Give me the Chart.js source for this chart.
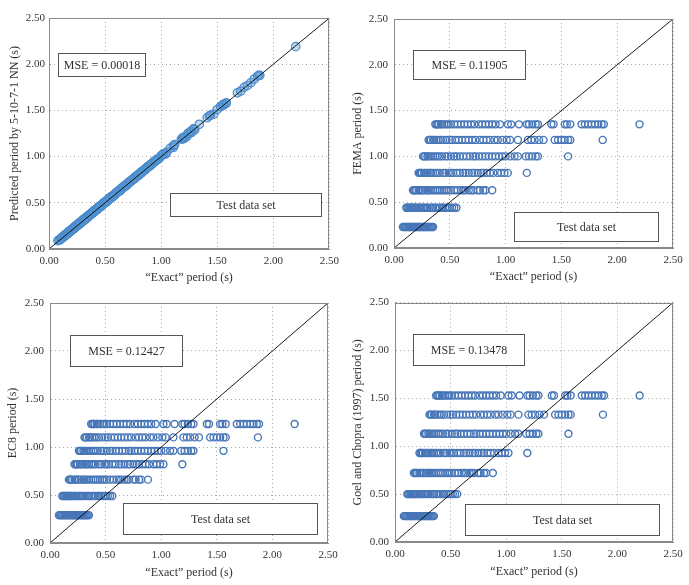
<!DOCTYPE html>
<html>
<head>
<meta charset="utf-8">
<script src="https://cdn.jsdelivr.net/npm/chart.js@4/dist/chart.umd.min.js"></script>
<style>
  html, body { margin: 0; padding: 0; background: #fff; }
  #wrap { position: relative; width: 689px; height: 585px; overflow: hidden; background: #fff; }
  canvas { position: absolute; }
</style>
</head>
<body>
<div id="wrap">
  <canvas id="c1" width="345" height="290" style="left:0px;top:0px"></canvas>
  <canvas id="c2" width="344" height="290" style="left:345px;top:0px"></canvas>
  <canvas id="c3" width="345" height="295" style="left:0px;top:290px"></canvas>
  <canvas id="c4" width="344" height="295" style="left:345px;top:290px"></canvas>
</div>
<script>
// ---------- DATA ----------
// "Exact" periods (s), grouped by the building group (code-period level)
const exactL1 = [0.08,0.09,0.10,0.11,0.12,0.13,0.14,0.15,0.16,0.17,0.18,0.19,0.20,0.21,0.22,0.23,0.24,0.25,0.26,0.27,0.28,0.29,0.30,0.31,0.32,0.33,0.34,0.35];
const exactL2 = [0.11,0.12,0.13,0.14,0.15,0.16,0.17,0.18,0.19,0.20,0.22,0.23,0.24,0.26,0.27,0.29,0.30,0.32,0.34,0.35,0.37,0.39,0.41,0.43,0.44,0.46,0.48,0.50,0.52,0.54,0.56];
const exactL3 = [0.17,0.18,0.19,0.20,0.22,0.23,0.25,0.26,0.28,0.30,0.31,0.33,0.35,0.37,0.39,0.41,0.43,0.45,0.47,0.49,0.51,0.54,0.57,0.60,0.62,0.64,0.67,0.69,0.71,0.75,0.77,0.80,0.82,0.88];
const exactL4 = [0.22,0.23,0.24,0.25,0.27,0.28,0.30,0.32,0.33,0.35,0.37,0.39,0.41,0.44,0.46,0.49,0.51,0.53,0.56,0.59,0.62,0.64,0.67,0.70,0.72,0.75,0.78,0.80,0.83,0.86,0.89,0.93,0.96,0.99,1.02,1.19];
const exactL5 = [0.26,0.27,0.28,0.30,0.31,0.33,0.35,0.37,0.39,0.41,0.43,0.46,0.48,0.51,0.54,0.56,0.59,0.62,0.65,0.68,0.71,0.73,0.76,0.79,0.82,0.85,0.88,0.91,0.94,0.97,1.00,1.04,1.08,1.11,1.18,1.21,1.24,1.27,1.29,1.56];
const exactL6 = [0.31,0.32,0.33,0.35,0.36,0.38,0.40,0.42,0.44,0.47,0.50,0.52,0.55,0.58,0.61,0.64,0.67,0.70,0.73,0.77,0.80,0.83,0.86,0.90,0.93,0.97,1.01,1.04,1.11,1.20,1.23,1.26,1.30,1.34,1.44,1.47,1.50,1.53,1.56,1.58,1.87];
const exactL7 = [0.37,0.38,0.39,0.40,0.42,0.43,0.45,0.47,0.49,0.51,0.54,0.57,0.60,0.63,0.66,0.69,0.72,0.76,0.79,0.82,0.85,0.88,0.91,0.95,1.02,1.05,1.12,1.19,1.21,1.24,1.27,1.29,1.41,1.43,1.53,1.55,1.58,1.68,1.71,1.74,1.77,1.80,1.83,1.86,1.88,2.20];

// Periods predicted by the 5-10-7-1 NN (same points, same order)
const nnPredL1 = [0.09,0.10,0.10,0.12,0.12,0.14,0.15,0.15,0.17,0.17,0.19,0.19,0.21,0.21,0.22,0.24,0.24,0.26,0.26,0.28,0.28,0.30,0.30,0.32,0.32,0.34,0.34,0.36];
const nnPredL2 = [0.12,0.12,0.14,0.14,0.16,0.16,0.18,0.18,0.20,0.20,0.23,0.23,0.25,0.26,0.28,0.29,0.31,0.32,0.35,0.35,0.38,0.39,0.42,0.43,0.45,0.46,0.49,0.50,0.53,0.54,0.57];
const nnPredL3 = [0.17,0.19,0.19,0.21,0.22,0.24,0.25,0.27,0.28,0.31,0.31,0.34,0.35,0.38,0.39,0.42,0.43,0.46,0.47,0.50,0.51,0.55,0.57,0.61,0.62,0.65,0.67,0.70,0.72,0.76,0.78,0.80,0.83,0.89];
const nnPredL4 = [0.23,0.23,0.25,0.25,0.28,0.28,0.31,0.32,0.34,0.35,0.38,0.39,0.42,0.44,0.47,0.49,0.52,0.53,0.57,0.59,0.63,0.64,0.68,0.70,0.73,0.75,0.79,0.80,0.84,0.86,0.90,0.93,0.97,0.99,1.03,1.19];
const nnPredL5 = [0.27,0.27,0.29,0.30,0.32,0.33,0.36,0.37,0.40,0.41,0.44,0.46,0.49,0.51,0.55,0.56,0.60,0.62,0.66,0.68,0.72,0.73,0.77,0.79,0.83,0.85,0.89,0.91,0.95,0.97,1.01,1.03,1.09,1.10,1.19,1.20,1.25,1.26,1.30,1.56];
const nnPredL6 = [0.32,0.32,0.34,0.35,0.37,0.38,0.41,0.42,0.45,0.47,0.51,0.52,0.56,0.58,0.62,0.64,0.68,0.70,0.74,0.77,0.81,0.83,0.87,0.90,0.94,0.97,1.02,1.03,1.12,1.21,1.22,1.27,1.29,1.35,1.45,1.46,1.51,1.54,1.57,1.58,1.88];
const nnPredL7 = [0.38,0.38,0.40,0.40,0.43,0.43,0.46,0.47,0.50,0.51,0.55,0.57,0.61,0.63,0.67,0.69,0.73,0.76,0.80,0.82,0.86,0.88,0.92,0.95,1.03,1.05,1.13,1.20,1.21,1.25,1.27,1.30,1.42,1.44,1.54,1.56,1.58,1.69,1.71,1.75,1.77,1.80,1.84,1.87,1.88,2.19];

// Code-formula periods (s), one value per level
const femaLevels = [0.23, 0.44, 0.63, 0.82, 1.00, 1.18, 1.35];
const ec8Levels  = [0.29, 0.49, 0.66, 0.82, 0.96, 1.10, 1.24];
const goelLevels = [0.27, 0.50, 0.72, 0.93, 1.13, 1.33, 1.53];

const mseValues = ["0.00018", "0.11905", "0.12427", "0.13478"];
const yTitles = ["Predicted period by 5-10-7-1 NN (s)", "FEMA period (s)", "EC8 period (s)", "Goel and Chopra (1997) period (s)"];
const xTitle = "\u201CExact\u201D period (s)";
const axisTicks = [0, 0.5, 1.0, 1.5, 2.0, 2.5];
const diagonal = [0, 2.5];

// ---------- BUILD ----------
const exactGroups = [exactL1, exactL2, exactL3, exactL4, exactL5, exactL6, exactL7];
const nnGroups = [nnPredL1, nnPredL2, nnPredL3, nnPredL4, nnPredL5, nnPredL6, nnPredL7];

function nnPoints() {
  const pts = [];
  exactGroups.forEach((g, i) => g.forEach((x, j) => pts.push({x: x, y: nnGroups[i][j]})));
  return pts;
}
function levelPoints(levels) {
  const pts = [];
  exactGroups.forEach((g, i) => g.forEach(x => pts.push({x: x, y: levels[i]})));
  return pts;
}

const FONT = "'Liberation Serif', 'Times New Roman', serif";
const TXT = '#333333';

const boxPlugin = {
  id: 'boxes',
  afterDatasetsDraw(chart, args, opts) {
    const ctx = chart.ctx;
    const xs = chart.scales.x, ys = chart.scales.y;
    const a = chart.chartArea;
    ctx.save();
    ctx.strokeStyle = '#8a8a8a';
    ctx.lineWidth = 1;
    ctx.strokeRect(Math.round(a.left) + 0.5, Math.round(a.top) + 0.5, Math.round(a.right - a.left) - 1, Math.round(a.bottom - a.top) - 1);
    (opts.items || []).forEach(b => {
      const x0 = Math.round(xs.getPixelForValue(b.x0)) + 0.5;
      const x1 = Math.round(xs.getPixelForValue(b.x1)) + 0.5;
      const y0 = Math.round(ys.getPixelForValue(b.yTop)) + 0.5;
      const y1 = Math.round(ys.getPixelForValue(b.yBot)) + 0.5;
      ctx.fillStyle = '#ffffff';
      ctx.fillRect(x0, y0, x1 - x0, y1 - y0);
      ctx.strokeStyle = '#555555';
      ctx.lineWidth = 1;
      ctx.strokeRect(x0, y0, x1 - x0, y1 - y0);
      ctx.fillStyle = TXT;
      ctx.font = '12px ' + FONT;
      ctx.textAlign = 'center';
      ctx.textBaseline = 'middle';
      ctx.fillText(b.text, (x0 + x1) / 2, (y0 + y1) / 2 + 1);
    });
    ctx.restore();
  }
};

function makeChart(id, cfg) {
  const ctx = document.getElementById(id);
  return new Chart(ctx, {
    data: {
      datasets: [
        {
          type: 'line',
          data: diagonal.map(v => ({x: v, y: v})),
          borderColor: '#000000',
          borderWidth: 0.9,
          pointRadius: 0,
          fill: false,
          order: 0
        },
        {
          type: 'scatter',
          data: cfg.points,
          pointStyle: 'circle',
          pointRadius: cfg.r,
          pointBorderWidth: cfg.bw,
          borderColor: cfg.color,
          backgroundColor: cfg.fill,
          order: 1
        }
      ]
    },
    options: {
      responsive: false,
      animation: false,
      devicePixelRatio: 1,
      layout: { padding: { top: cfg.top, right: cfg.right, left: 0, bottom: 0 } },
      plugins: {
        legend: { display: false },
        tooltip: { enabled: false },
        boxes: { items: cfg.boxes }
      },
      scales: {
        x: {
          type: 'linear', min: 0, max: 2.5,
          afterBuildTicks: s => { s.ticks = axisTicks.map(v => ({value: v})); },
          afterFit: s => { s.height = cfg.xh; },
          ticks: { callback: v => v.toFixed(2), font: { family: FONT, size: 11 }, color: TXT, padding: cfg.xpad, maxRotation: 0 },
          grid: { color: '#a8a8a8', lineWidth: 1, drawTicks: false },
          border: { color: '#8a8a8a', width: 1, dash: [1, 3] },
          title: { display: true, text: xTitle, font: { family: FONT, size: 12 }, color: TXT, padding: { top: 0, bottom: cfg.xtp } }
        },
        y: {
          type: 'linear', min: 0, max: 2.5,
          afterBuildTicks: s => { s.ticks = axisTicks.map(v => ({value: v})); },
          afterFit: s => { s.width = cfg.yw; },
          ticks: { callback: v => v.toFixed(2), font: { family: FONT, size: 11 }, color: TXT, padding: cfg.ypad },
          grid: { color: '#a8a8a8', lineWidth: 1, drawTicks: false },
          border: { color: '#8a8a8a', width: 1, dash: [1, 3] },
          title: { display: true, text: cfg.yTitle, font: { family: FONT, size: 12 }, color: TXT, padding: { top: cfg.ytp, bottom: 0 } }
        }
      }
    },
    plugins: [boxPlugin]
  });
}

const blue = '#4776b8';

makeChart('c1', {
  points: nnPoints(), color: '#4b8bcc', fill: 'rgba(91,155,213,0.4)', r: 4.2, bw: 1.2,
  top: 18, right: 15, yw: 49, xh: 41, xpad: 6, ypad: 4, xtp: 5, ytp: 8,
  yTitle: yTitles[0],
  boxes: [
    { x0: 0.08, x1: 0.854, yTop: 2.121, yBot: 1.872, text: 'MSE = ' + mseValues[0] },
    { x0: 1.077, x1: 2.429, yTop: 0.606, yBot: 0.357, text: 'Test data set' }
  ]
});
const rowCfg = { color: blue, fill: 'rgba(255,255,255,0)', r: 3.5, bw: 1.4 };
makeChart('c2', Object.assign({}, rowCfg, {
  points: levelPoints(femaLevels),
  top: 19, right: 16, yw: 49, xh: 42, xpad: 6, ypad: 6, xtp: 6, ytp: 6,
  yTitle: yTitles[1],
  boxes: [
    { x0: 0.173, x1: 1.174, yTop: 2.162, yBot: 1.845, text: 'MSE = ' + mseValues[1] },
    { x0: 1.075, x1: 2.366, yTop: 0.393, yBot: 0.076, text: 'Test data set' }
  ]
}));
makeChart('c3', Object.assign({}, rowCfg, {
  points: levelPoints(ec8Levels),
  top: 13, right: 17, yw: 50, xh: 42, xpad: 6, ypad: 6, xtp: 5, ytp: 6,
  yTitle: yTitles[2],
  boxes: [
    { x0: 0.18, x1: 1.187, yTop: 2.17, yBot: 1.847, text: 'MSE = ' + mseValues[2] },
    { x0: 0.656, x1: 2.401, yTop: 0.42, yBot: 0.097, text: 'Test data set' }
  ]
}));
makeChart('c4', Object.assign({}, rowCfg, {
  points: levelPoints(goelLevels),
  top: 12, right: 16, yw: 50, xh: 43, xpad: 6, ypad: 6, xtp: 6, ytp: 6,
  yTitle: yTitles[3],
  boxes: [
    { x0: 0.159, x1: 1.163, yTop: 2.169, yBot: 1.845, text: 'MSE = ' + mseValues[3] },
    { x0: 0.629, x1: 2.374, yTop: 0.394, yBot: 0.07, text: 'Test data set' }
  ]
}));
</script>
</body>
</html>
